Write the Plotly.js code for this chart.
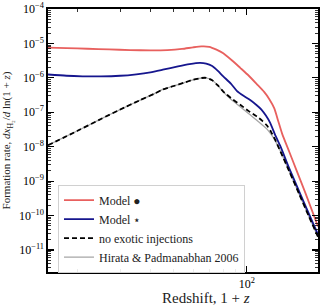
<!DOCTYPE html>
<html>
<head>
<meta charset="utf-8">
<script src="https://cdn.plot.ly/plotly-3.0.1.min.js"></script>
<style>
  html, body { margin: 0; padding: 0; background: #fff; }
  #chart { width: 324px; height: 308px; }
</style>
</head>
<body>
<div id="chart"></div>
<script>
// ---- data (1+z, formation rate) ----
const zRed  = [15.1, 18, 22, 27, 33, 40, 47, 54, 60, 65, 70, 75, 80, 87, 94, 102, 110, 118, 124, 130, 135, 140, 150, 160, 175, 197];
const rRed  = [7.6e-6, 7.3e-6, 7.0e-6, 6.7e-6, 6.4e-6, 6.3e-6, 6.4e-6, 6.9e-6, 7.7e-6, 8.2e-6, 8.0e-6, 6.6e-6, 5.2e-6, 3.2e-6, 1.95e-6, 1.15e-6, 6.6e-7, 3.9e-7, 2.4e-7, 1.3e-7, 5.5e-8, 2.4e-8, 7e-9, 2.2e-9, 4.4e-10, 4.8e-11];

const zBlue = [15.1, 18, 21, 25, 30, 35, 40, 45, 52, 58, 64, 68, 72, 76, 80, 86, 91, 97, 103, 110, 115, 120, 125, 131, 138, 150, 165, 180, 197];
const rBlue = [1.25e-6, 1.15e-6, 1.11e-6, 1.10e-6, 1.15e-6, 1.27e-6, 1.45e-6, 1.72e-6, 2.15e-6, 2.5e-6, 2.72e-6, 2.6e-6, 2.2e-6, 1.6e-6, 1.1e-6, 6.8e-7, 4.2e-7, 3.0e-7, 2.3e-7, 1.6e-7, 1.2e-7, 8e-8, 4.9e-8, 2.2e-8, 1.0e-8, 2.3e-9, 4.9e-10, 1.2e-10, 2.8e-11];

const zStd  = [15.1, 20, 25, 30, 36, 42, 45, 50, 55, 60, 65, 68, 72, 76, 80, 86, 94, 102, 110, 116, 121, 126, 131, 136, 150, 165, 180, 197];
const rStd  = [1.1e-8, 2.9e-8, 6.4e-8, 1.2e-7, 2.2e-7, 3.6e-7, 4.6e-7, 5.8e-7, 7.2e-7, 8.8e-7, 9.9e-7, 1.0e-6, 8.5e-7, 6.0e-7, 4.0e-7, 2.6e-7, 1.65e-7, 1.08e-7, 7.6e-8, 5.6e-8, 4.2e-8, 2.7e-8, 1.6e-8, 9e-9, 1.9e-9, 4.1e-10, 1.0e-10, 2.4e-11];

const zHP   = [15.1, 20, 25, 30, 36, 42, 45, 50, 55, 60, 65, 68, 72, 76, 80, 86, 94, 102, 110, 116, 121, 126, 131, 136, 150, 165, 180, 197];
const rHP   = [1.1e-8, 2.9e-8, 6.4e-8, 1.2e-7, 2.2e-7, 3.6e-7, 4.6e-7, 5.8e-7, 7.2e-7, 8.8e-7, 9.9e-7, 1.0e-6, 8.5e-7, 6.0e-7, 3.9e-7, 2.4e-7, 1.45e-7, 9.0e-8, 5.9e-8, 4.3e-8, 3.3e-8, 2.3e-8, 1.5e-8, 9e-9, 1.9e-9, 4.1e-10, 1.0e-10, 2.4e-11];

const seriesNames = ["Model ●", "Model ⋆", "no exotic injections", "Hirata & Padmanabhan 2006"];

// ---- tick labels ----
const xTickVals = [100];
const xTickText = ["10<sup>2</sup>"];
const xMinorVals = [20, 30, 40, 50, 60, 70, 80, 90];
const yTickVals = [1e-11, 1e-10, 1e-9, 1e-8, 1e-7, 1e-6, 1e-5, 1e-4];
const yTickText = ["10<sup>−11</sup>", "10<sup>−10</sup>", "10<sup>−9</sup>", "10<sup>−8</sup>", "10<sup>−7</sup>", "10<sup>−6</sup>", "10<sup>−5</sup>", "10<sup>−4</sup>"];

const yMinorVals = [];
for (let k = -12; k <= -5; k++) for (let m = 2; m <= 9; m++) yMinorVals.push(m * Math.pow(10, k));

const FONT = "Liberation Serif, DejaVu Serif, serif";

const traces = [
  { x: zHP, y: rHP, name: seriesNames[3], mode: "lines", legendrank: 4,
    line: { color: "#a6a6a6", width: 1.3, shape: "spline", smoothing: 0.6 } },
  { x: zRed, y: rRed, name: seriesNames[0], mode: "lines", legendrank: 1,
    line: { color: "#e8605e", width: 1.8, shape: "spline", smoothing: 0.6 } },
  { x: zBlue, y: rBlue, name: seriesNames[1], mode: "lines", legendrank: 2,
    line: { color: "#16168e", width: 1.8, shape: "spline", smoothing: 0.6 } },
  { x: zStd, y: rStd, name: seriesNames[2], mode: "lines", legendrank: 3,
    line: { color: "#000000", width: 1.8, dash: "5px,3px", shape: "spline", smoothing: 0.6 } }
];

const axisCommon = {
  type: "log",
  showgrid: false,
  zeroline: false,
  showline: true,
  linecolor: "#000",
  linewidth: 1.6,
  mirror: "allticks",
  ticks: "inside",
  ticklen: 6,
  tickwidth: 1.1,
  tickcolor: "#000",
  tickmode: "array",
  tickfont: { family: FONT, size: 12, color: "#000" }
};

const layout = {
  width: 324, height: 308,
  margin: { l: 48, r: 6, t: 9, b: 36 },
  paper_bgcolor: "#fff", plot_bgcolor: "#fff",
  font: { family: FONT, color: "#000" },
  showlegend: true,
  legend: {
    x: 0.037, y: 0.165, xanchor: "left", yanchor: "middle",
    bgcolor: "rgba(255,255,255,0.9)", bordercolor: "#d0d0d0", borderwidth: 1,
    font: { family: FONT, size: 12, color: "#222" },
    itemwidth: 30, traceorder: "normal"
  },
  xaxis: Object.assign({}, axisCommon, {
    range: [Math.log10(15.1), Math.log10(197)],
    tickvals: xTickVals, ticktext: xTickText,
    minor: { tickmode: "array", tickvals: xMinorVals, ticks: "inside", ticklen: 3, tickwidth: 0.8, tickcolor: "#000", showgrid: false }
  }),
  yaxis: Object.assign({}, axisCommon, {
    range: [-11.64, -4],
    tickvals: yTickVals, ticktext: yTickText,
    minor: { tickmode: "array", tickvals: yMinorVals, ticks: "inside", ticklen: 3, tickwidth: 0.8, tickcolor: "#000", showgrid: false }
  }),
  annotations: [
    { text: "Redshift, 1 + <i>z</i>", xref: "paper", yref: "paper", x: 0.585, y: -0.097,
      xanchor: "center", yanchor: "middle", showarrow: false, font: { family: FONT, size: 15, color: "#222" } },
    { text: "Formation rate, <i>dx</i><sub>H₂</sub>/<i>d</i> ln(1 + <i>z</i>)", xref: "paper", yref: "paper",
      x: -0.152, y: 0.5, xanchor: "center", yanchor: "middle", textangle: -90, showarrow: false,
      font: { family: FONT, size: 11, color: "#222" } }
  ]
};

Plotly.newPlot("chart", traces, layout, { staticPlot: true, displayModeBar: false });
</script>
</body>
</html>
